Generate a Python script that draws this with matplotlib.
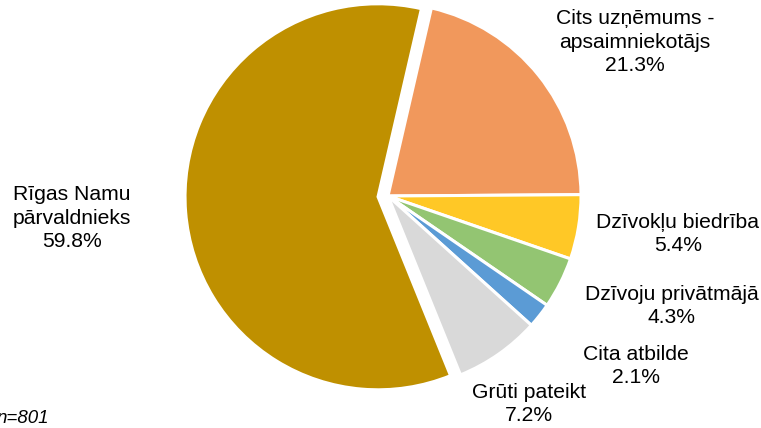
import matplotlib
matplotlib.use("Agg")
import matplotlib.pyplot as plt

plt.rcParams['font.family'] = ['Liberation Sans', 'DejaVu Sans']

categories = ["Cits uzņēmums -\napsaimniekotājs", "Dzīvokļu biedrība", "Dzīvoju privātmājā",
              "Cita atbilde", "Grūti pateikt", "Rīgas Namu\npārvaldnieks"]
values = [21.3, 5.4, 4.3, 2.1, 7.2, 59.8]
colors = ["#F1985C", "#FFC826", "#93C572", "#5B9BD5", "#D9D9D9", "#BF9000"]
note = "n=801"

W, H = 761, 428
fig = plt.figure(figsize=(W / 100, H / 100), dpi=100)
ax = fig.add_axes([0, 0, 1, 1])

cx, cy, r = 388, H - 196, 193
explode = [0, 0, 0, 0, 0, 10]  # in data units (pixels)
ax.pie(values, colors=colors, startangle=77, counterclock=False, explode=explode,
       center=(cx, cy), radius=r, frame=True,
       wedgeprops=dict(edgecolor='white', linewidth=2.2))
ax.set_xlim(0, W)
ax.set_ylim(0, H)
ax.axis('off')

label_pos = [(635, 42), (678, 234), (672, 306), (636, 366), (529, 404), (72, 218)]
for cat, v, (x, y) in zip(categories, values, label_pos):
    ax.text(x, H - y, f"{cat}\n{v:.1f}%", ha='center', va='center', fontsize=15.2,
            color='#000000', linespacing=1.3)

ax.text(-3, H - 423, note, ha='left', va='baseline', fontsize=13.5, style='italic')

fig.savefig("out.png", dpi=100)
